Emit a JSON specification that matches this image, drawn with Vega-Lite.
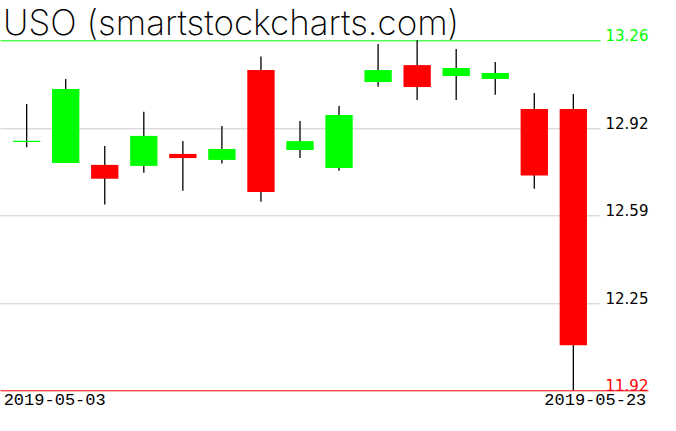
{
  "$schema": "https://vega.github.io/schema/vega-lite/v6.json",
  "width": 600,
  "height": 350,
  "autosize": {"type": "none"},
  "padding": {"left": 0, "top": 40.3, "right": 76, "bottom": 40.7},
  "background": "white",
  "title": {
    "text": "USO (smartstockcharts.com)",
    "anchor": "start",
    "frame": "group",
    "font": "Inter",
    "fontSize": 35,
    "fontWeight": 200,
    "color": "black",
    "baseline": "alphabetic",
    "offset": -42,
    "dx": 3
  },
  "data": {
    "values": [
      {"date": "2019-05-03", "open": 12.871, "high": 13.016, "low": 12.851, "close": 12.875},
      {"date": "2019-05-06", "open": 12.790, "high": 13.112, "low": 12.790, "close": 13.074},
      {"date": "2019-05-07", "open": 12.783, "high": 12.855, "low": 12.631, "close": 12.730},
      {"date": "2019-05-08", "open": 12.779, "high": 12.986, "low": 12.753, "close": 12.894},
      {"date": "2019-05-09", "open": 12.825, "high": 12.874, "low": 12.684, "close": 12.809},
      {"date": "2019-05-10", "open": 12.802, "high": 12.932, "low": 12.788, "close": 12.844},
      {"date": "2019-05-13", "open": 13.146, "high": 13.198, "low": 12.642, "close": 12.679},
      {"date": "2019-05-14", "open": 12.840, "high": 12.951, "low": 12.809, "close": 12.874},
      {"date": "2019-05-15", "open": 12.771, "high": 13.008, "low": 12.761, "close": 12.974},
      {"date": "2019-05-16", "open": 13.100, "high": 13.246, "low": 13.082, "close": 13.146},
      {"date": "2019-05-17", "open": 13.165, "high": 13.260, "low": 13.031, "close": 13.081},
      {"date": "2019-05-20", "open": 13.123, "high": 13.227, "low": 13.031, "close": 13.154},
      {"date": "2019-05-21", "open": 13.112, "high": 13.177, "low": 13.052, "close": 13.135},
      {"date": "2019-05-22", "open": 12.997, "high": 13.058, "low": 12.692, "close": 12.742},
      {"date": "2019-05-23", "open": 12.997, "high": 13.054, "low": 11.920, "close": 12.092}
    ]
  },
  "encoding": {
    "x": {
      "field": "date",
      "type": "ordinal",
      "sort": null,
      "scale": {"paddingInner": 0.3, "paddingOuter": 0.333},
      "axis": {
        "title": null,
        "domain": false,
        "ticks": false,
        "grid": false,
        "labelAngle": 0,
        "labelFont": "Liberation Mono",
        "labelFontSize": 17,
        "labelColor": "black",
        "labelPadding": 1,
        "labelBaseline": "top",
        "labelOverlap": false,
        "labelBound": false,
        "labelFlush": false,
        "labelExpr": "datum.value == '2019-05-03' || datum.value == '2019-05-23' ? datum.value : ''",
        "labelAlign": {"condition": {"test": "datum.value == '2019-05-03'", "value": "left"}, "value": "right"},
        "labelOffset": {"condition": {"test": "datum.value == '2019-05-03'", "value": -23}, "value": 73}
      }
    }
  },
  "layer": [
    {
      "mark": {"type": "rule", "color": "black", "strokeWidth": 1.3},
      "encoding": {
        "y": {
          "field": "low",
          "type": "quantitative",
          "scale": {"domain": [11.92, 13.26], "nice": false, "zero": false},
          "axis": {
            "orient": "right",
            "title": null,
            "values": [11.92, 12.254, 12.59, 12.924, 13.26],
            "format": ".2f",
            "domain": false,
            "ticks": true,
            "tickSize": 48,
            "tickColor": {"condition": {"test": "datum.value == 11.92", "value": "#ff0000"}, "value": "transparent"},
            "labelPadding": -43,
            "labelFont": "DejaVu Sans",
            "labelFontSize": 15,
            "labelBaseline": "alphabetic",
            "labelAlign": "left",
            "labelOverlap": false,
            "labelBound": false,
            "labelFlush": false,
            "labelColor": {"condition": [{"test": "datum.value == 13.26", "value": "#00ff00"}, {"test": "datum.value == 11.92", "value": "#ff0000"}], "value": "black"},
            "grid": true,
            "gridWidth": 1,
            "gridColor": {"condition": [{"test": "datum.value == 13.26", "value": "#00ff00"}, {"test": "datum.value == 11.92", "value": "#ff0000"}], "value": "#cccccc"}
          }
        },
        "y2": {"field": "high"}
      }
    },
    {
      "mark": {"type": "bar"},
      "encoding": {
        "y": {"field": "open", "type": "quantitative"},
        "y2": {"field": "close"},
        "color": {"condition": {"test": "datum.close > datum.open", "value": "#00ff00"}, "value": "#ff0000"}
      }
    }
  ],
  "config": {"view": {"stroke": null}}
}
